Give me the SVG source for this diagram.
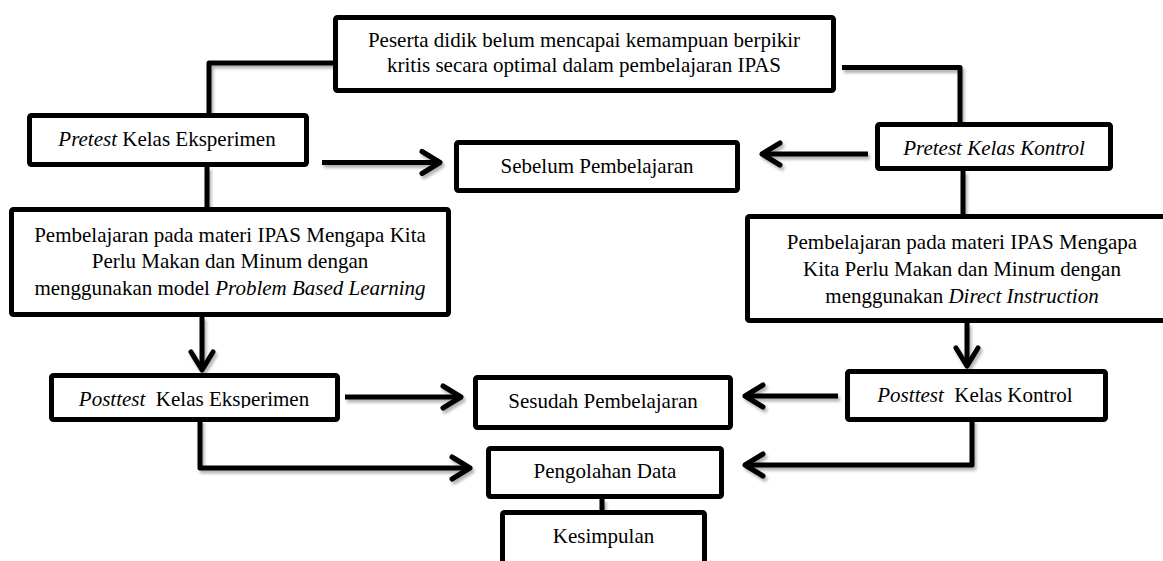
<svg xmlns="http://www.w3.org/2000/svg" width="1163" height="561" viewBox="0 0 1163 561">
<style>
.box{fill:#fff;stroke:#000;stroke-width:5;}
.t{font-family:"Liberation Serif","Times New Roman",serif;font-size:21px;fill:#000;text-anchor:middle;}
.i{font-style:italic;}
.c{fill:none;stroke:#000;stroke-width:5;stroke-linejoin:round;}
.a{marker-end:url(#ah);}
</style>
<defs>
<filter id="sh" x="-10%" y="-50%" width="120%" height="200%">
<feDropShadow dx="2" dy="3" stdDeviation="1.8" flood-color="#000" flood-opacity="0.3"/>
</filter>
<marker id="ah" markerUnits="userSpaceOnUse" viewBox="-24 -15 28 30" refX="0" refY="0" markerWidth="28" markerHeight="30" orient="auto">
<path d="M-18,-11 L0,0 L-18,11" fill="none" stroke="#000" stroke-width="5" stroke-linecap="round" stroke-linejoin="round"/>
</marker>
<clipPath id="clipPE"><rect x="50" y="375" width="290" height="33"/></clipPath>
</defs>
<g id="connectors" filter="url(#sh)">
<path class="c" d="M333,63 H209 V115"/>
<path class="c" d="M842,67.5 H960 V124"/>
<path class="c" d="M207,167 V209"/>
<path class="c" d="M963,171 V216"/>
<path class="c a" d="M322,162.5 H440"/>
<path class="c a" d="M868,154 H762"/>
<path class="c a" d="M202,317 V370"/>
<path class="c a" d="M967,323 V366"/>
<path class="c a" d="M345,397 H461"/>
<path class="c a" d="M838,396 H745"/>
<path class="c a" d="M200,420 V468 H470"/>
<path class="c a" d="M972,420 V465 H745"/>
<path class="c" d="M602,499 V512"/>
</g>
<g id="masalah">
<rect class="box" x="335.5" y="17.5" width="498" height="73" rx="2"/>
<text class="t" x="584" y="47">Peserta didik belum mencapai kemampuan berpikir</text>
<text class="t" x="584" y="72">kritis secara optimal dalam pembelajaran IPAS</text>
</g>
<g id="pretest-eksperimen">
<rect class="box" x="29.5" y="115.5" width="277" height="49" rx="2"/>
<text class="t" x="167" y="146"><tspan class="i">Pretest</tspan> Kelas Eksperimen</text>
</g>
<g id="sebelum">
<rect class="box" x="456.5" y="142.5" width="281" height="48" rx="2"/>
<text class="t" x="597" y="173">Sebelum Pembelajaran</text>
</g>
<g id="pretest-kontrol">
<rect class="box" x="877.5" y="124.5" width="233" height="44" rx="2"/>
<text class="t i" x="994" y="155">Pretest Kelas Kontrol</text>
</g>
<g id="pembelajaran-eksperimen">
<rect class="box" x="11.5" y="209.5" width="437" height="105" rx="2"/>
<text class="t" x="230" y="242">Pembelajaran pada materi IPAS Mengapa Kita</text>
<text class="t" x="230" y="268">Perlu Makan dan Minum dengan</text>
<text class="t" x="230" y="295">menggunakan model <tspan class="i">Problem Based Learning</tspan></text>
</g>
<g id="pembelajaran-kontrol">
<rect class="box" x="747.5" y="216.5" width="440" height="104" rx="2"/>
<text class="t" x="962" y="249">Pembelajaran pada materi IPAS Mengapa</text>
<text class="t" x="962" y="276">Kita Perlu Makan dan Minum dengan</text>
<text class="t" x="962" y="303">menggunakan <tspan class="i">Direct Instruction</tspan></text>
</g>
<g id="posttest-eksperimen">
<rect class="box" x="51.5" y="375.5" width="286" height="44" rx="2"/>
<text class="t" x="194" y="406" clip-path="url(#clipPE)" xml:space="preserve"><tspan class="i">Posttest</tspan>  Kelas Eksperimen</text>
</g>
<g id="sesudah">
<rect class="box" x="475.5" y="377.5" width="255" height="50" rx="2"/>
<text class="t" x="603" y="408">Sesudah Pembelajaran</text>
</g>
<g id="posttest-kontrol">
<rect class="box" x="847.5" y="371.5" width="258" height="48" rx="2"/>
<text class="t" x="975" y="402" xml:space="preserve"><tspan class="i">Posttest</tspan>  Kelas Kontrol</text>
</g>
<g id="pengolahan">
<rect class="box" x="488.5" y="448.5" width="233" height="48" rx="2"/>
<text class="t" x="605" y="478">Pengolahan Data</text>
</g>
<g id="kesimpulan">
<rect class="box" x="502.5" y="512.5" width="202" height="80" rx="2"/>
<text class="t" x="603.5" y="543">Kesimpulan</text>
</g>
</svg>
